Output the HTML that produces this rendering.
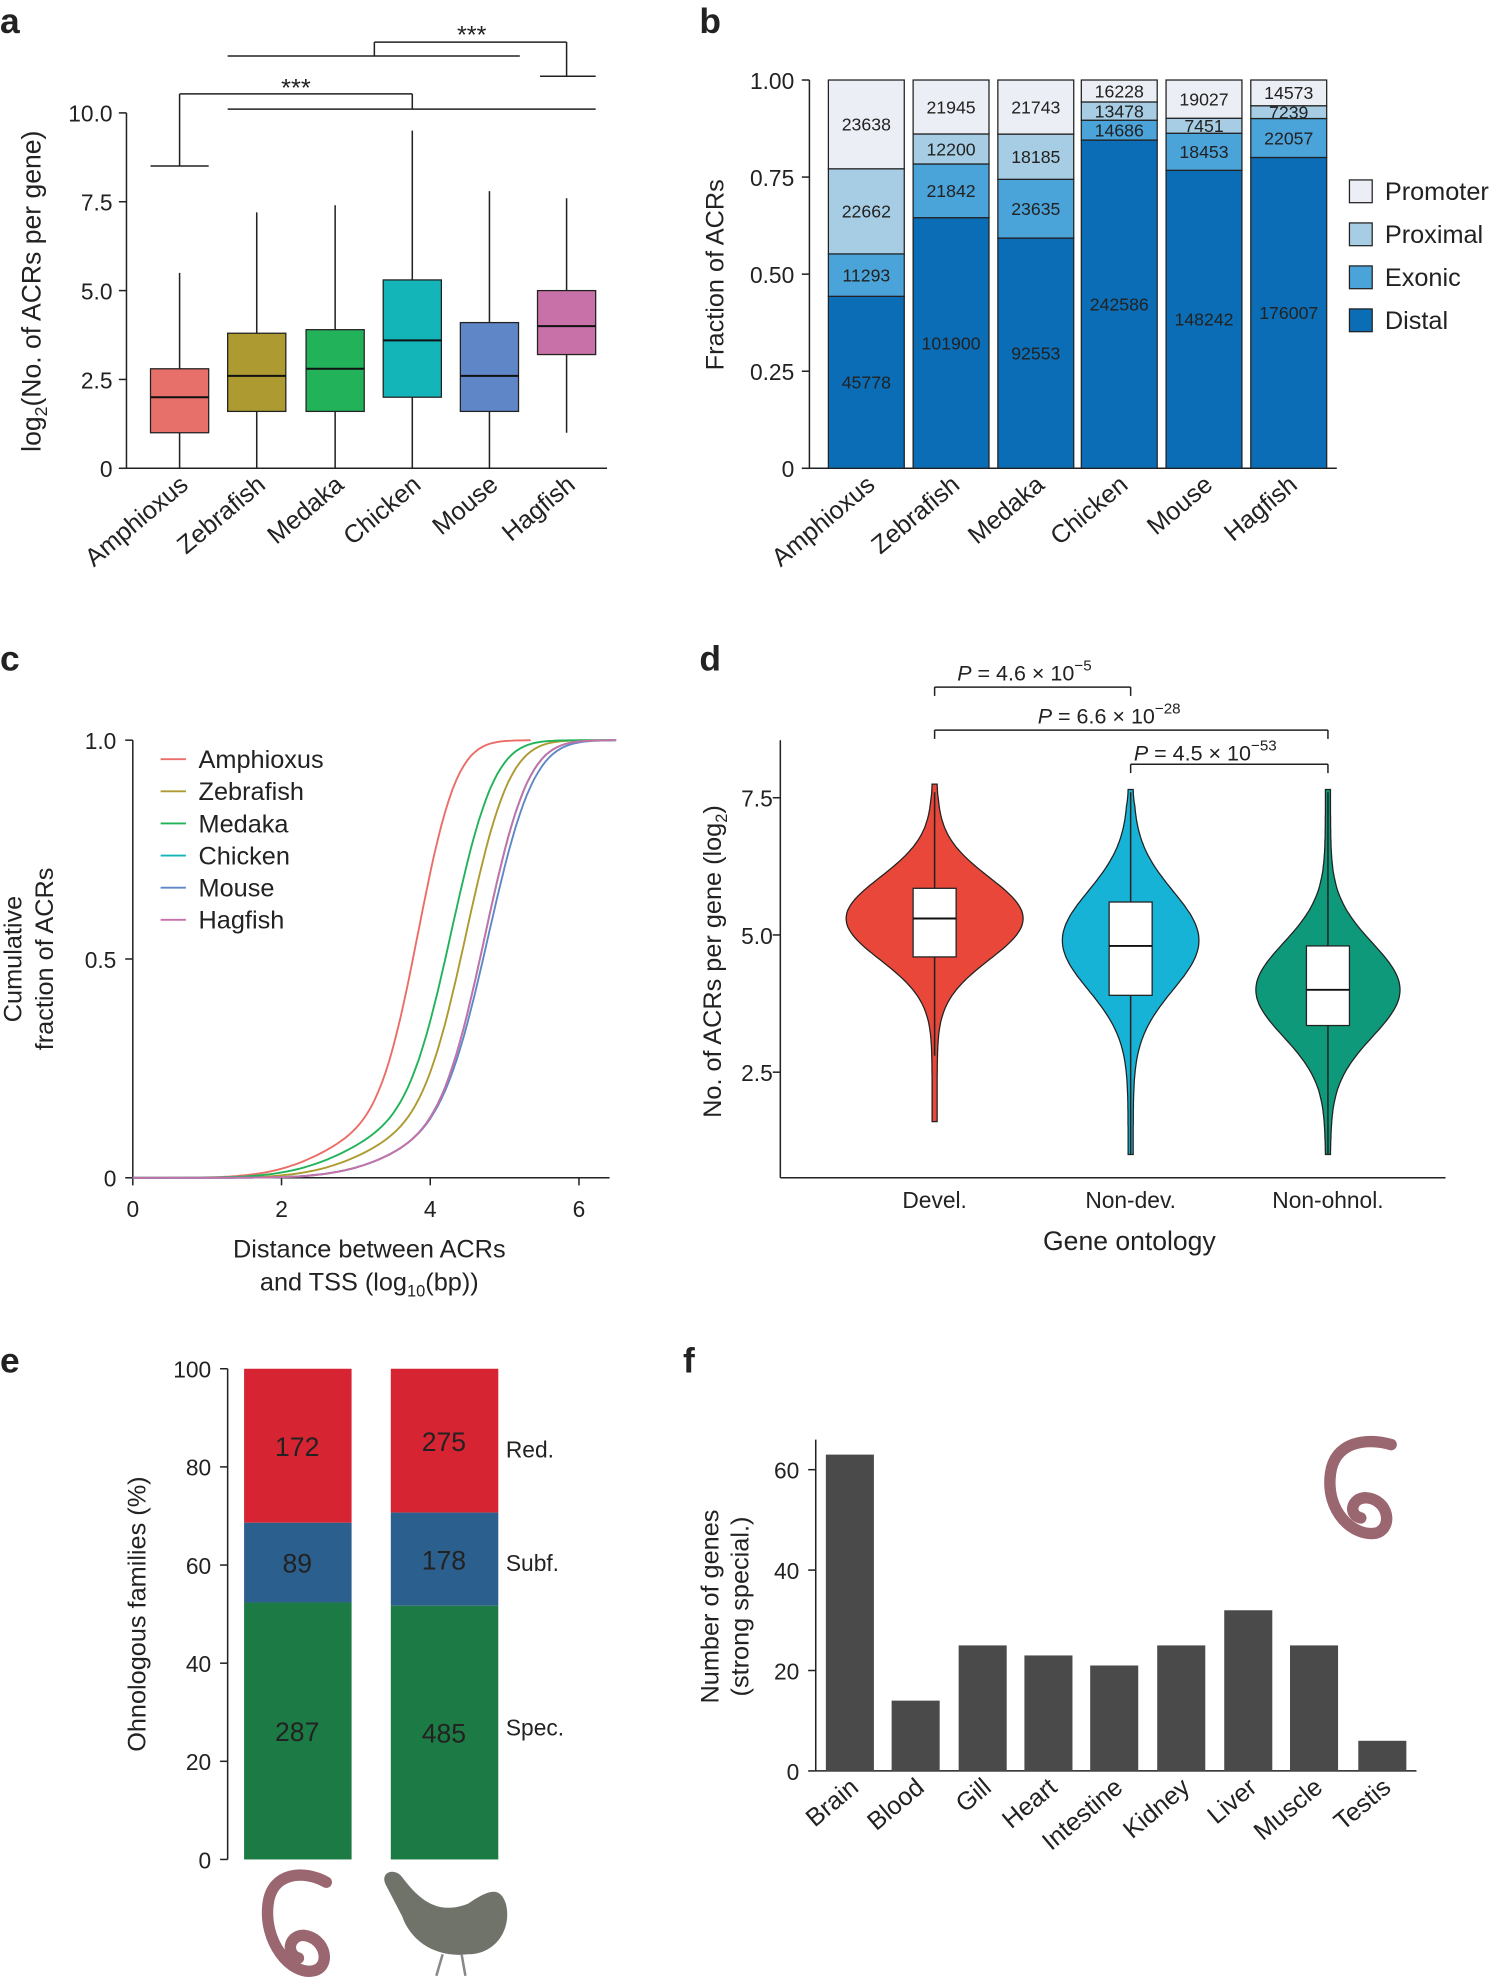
<!DOCTYPE html>
<html><head><meta charset="utf-8"><style>
html,body{margin:0;padding:0;background:#fff}
svg{display:block}
text{font-family:"Liberation Sans",sans-serif;fill:#222}
</style></head><body>
<svg id="s" width="1505" height="1985" viewBox="0 0 1190 1569" xmlns="http://www.w3.org/2000/svg"></svg>
<script>
const S=document.getElementById('s');let h='';
const L=(x1,y1,x2,y2,c='#222',w=1.2)=>h+=`<line x1="${x1}" y1="${y1}" x2="${x2}" y2="${y2}" stroke="${c}" stroke-width="${w}"/>`;
const T=(x,y,t,sz=18,a='start',ex='')=>h+=`<text x="${x}" y="${y}" font-size="${sz}" text-anchor="${a}" ${ex}>${t}</text>`;
const R=(x,y,w,hh,f,st='#222')=>h+=`<rect x="${x}" y="${y}" width="${w}" height="${hh}" fill="${f}" stroke="${st}" stroke-width="1"/>`;
[['a',0,26],['b',553,26],['c',0,530],['d',553,530],['e',0,1085],['f',540,1085]].forEach(p=>T(p[1],p[2],p[0],28,'start','font-weight="bold"'));
// ===== a
{const y=v=>370-v*28.1;L(100,y(10),100,370);L(100,370,480,370);
[[0,'0'],[2.5,'2.5'],[5,'5.0'],[7.5,'7.5'],[10,'10.0']].forEach(t=>{L(94,y(t[0]),100,y(t[0]));T(89,y(t[0])+7,t[1],18,'end')});
T(32,230,'log<tspan font-size="14" dy="5">2</tspan><tspan dy="-5">(No. of ACRs per gene)</tspan>',21,'middle','transform="rotate(-90 32 230)"');
const d=[['Amphioxus',142,'#e8706a',0,1,2,2.8,5.5],['Zebrafish',203,'#ad9a30',0,1.6,2.6,3.8,7.2],['Medaka',265,'#22b35a',0,1.6,2.8,3.9,7.4],['Chicken',326,'#13b5b8',0,2,3.6,5.3,9.5],['Mouse',387,'#5f87c7',0,1.6,2.6,4.1,7.8],['Hagfish',448,'#c870a8',1,3.2,4,5,7.6]];
d.forEach(b=>{const x=b[1];L(x,y(b[3]),x,y(b[7]));R(x-23,y(b[6]),46,y(b[4])-y(b[6]),b[2]);L(x-23,y(b[5]),x+23,y(b[5]),'#111',1.6);
T(x+8,385,b[0],20,'end',`transform="rotate(-40 ${x+8} 385)"`)});
L(119,131,165,131);L(142,131,142,74);L(142,74,326,74);L(326,74,326,86);L(180,86,471,86);T(234,76,'***',20,'middle');
L(180,44,411,44);L(296,44,296,33);L(296,33,448,33);L(448,33,448,60);L(427,60,471,60);T(373,34,'***',20,'middle');}
// ===== b
{const y=v=>370-v*307;L(640,63,640,370);L(640,370,1057,370);
[[0,'0'],[.25,'0.25'],[.5,'0.50'],[.75,'0.75'],[1,'1.00']].forEach(t=>{L(634,y(t[0]),640,y(t[0]));T(628,y(t[0])+7,t[1],18,'end')});
T(572,217,'Fraction of ACRs',20,'middle','transform="rotate(-90 572 217)"');
const cols=['#0a6db5','#4aa3d9','#a6cde4','#eceef5'];
const d=[['Amphioxus',655,[45778,11293,22662,23638]],['Zebrafish',722,[101900,21842,12200,21945]],['Medaka',789,[92553,23635,18185,21743]],['Chicken',855,[242586,14686,13478,16228]],['Mouse',922,[148242,18453,7451,19027]],['Hagfish',989,[176007,22057,7239,14573]]];
d.forEach(b=>{const tot=b[2].reduce((a,c)=>a+c);let c=0;b[2].forEach((v,i)=>{const y0=y(c/tot),y1=y((c+v)/tot);R(b[1],y1,60,y0-y1,cols[i]);c+=v;
T(b[1]+30,(y0+y1)/2+5,v,14,'middle')});
T(b[1]+38,385,b[0],20,'end',`transform="rotate(-40 ${b[1]+38} 385)"`)});
['Promoter','Proximal','Exonic','Distal'].forEach((n,i)=>{R(1067,142+i*34,18,18,cols[3-i]);T(1095,158+i*34,n,20)});}
// ===== c
{const X=v=>105+v*58.8,Y=v=>931-v*346;L(105,585,105,931);L(105,931,482,931);
[0,2,4,6].forEach(t=>{L(X(t),931,X(t),937);T(X(t),962,t,18,'middle')});
[[0,'0'],[.5,'0.5'],[1,'1.0']].forEach(t=>{L(99,Y(t[0]),105,Y(t[0]));T(92,Y(t[0])+7,t[1],18,'end')});
T(292,994,'Distance between ACRs',20,'middle');T(292,1020,'and TSS (log<tspan font-size="13" dy="5">10</tspan><tspan dy="-5">(bp))</tspan>',20,'middle');
T(17,758,'Cumulative',20,'middle','transform="rotate(-90 17 758)"');T(42,758,'fraction of ACRs',20,'middle','transform="rotate(-90 42 758)"');
const erf=x=>{const t=1/(1+.3275911*Math.abs(x));const y=1-(((((1.061405429*t-1.453152027)*t)+1.421413741)*t-.284496736)*t+.254829592)*t*Math.exp(-x*x);return x>=0?y:-y};
const N=(x,m,s)=>.5*(1+erf((x-m)/(s*Math.SQRT2)));
const cs=[['Amphioxus','#ea6d68',3.85,.4,2.9,.75,5.2],['Zebrafish','#ad9a30',4.5,.45,3.5,.8,6.3],['Medaka','#22b35a',4.3,.45,3.2,.8,6.3],['Chicken','#13b5b8',4.75,.45,3.9,.8,6.35],['Mouse','#5f87c7',4.8,.47,3.9,.8,6.35],['Hagfish','#c870a8',4.75,.45,3.9,.8,6.35]];
cs.forEach((c,i)=>{let p='';for(let x=0;x<=c[6]+.001;x+=.05){let v=.82*N(x,c[2],c[3])+.18*N(x,c[4],c[5]);p+=(p?'L':'M')+X(x).toFixed(1)+','+Y(v).toFixed(1)}
p+='L'+X(c[6]+.15)+','+Y(1);h+=`<path d="${p}" fill="none" stroke="${c[1]}" stroke-width="1.5"/>`;
L(127,600+i*25.4,147,600+i*25.4,c[1],1.5);T(157,607+i*25.4,c[0],20)});}
// ===== d
{const Y=v=>739-(v-5)*43.4;L(617,585,617,931);L(617,931,1143,931);
[[2.5,'2.5'],[5,'5.0'],[7.5,'7.5']].forEach(t=>{L(611,Y(t[0]),617,Y(t[0]));T(611,Y(t[0])+7,t[1],18,'end')});
T(570,760,'No. of ACRs per gene (log<tspan font-size="13" dy="5">2</tspan><tspan dy="-5">)</tspan>',20,'middle','transform="rotate(-90 570 760)"');
const vs=[[739,'#e8473a',1.6,7.75,5.3,.75,68,4.6,5.85,5.3,2.8,7.6,'Devel.'],[894,'#17b3d6',1.0,7.65,4.9,.9,52,3.9,5.6,4.8,1.0,7.6,'Non-dev.'],[1050,'#0e9a7a',1.0,7.65,4.0,.85,55,3.35,4.8,4.0,1.0,7.6,'Non-ohnol.']];
vs.forEach(v=>{const c=v[0];let l=[],r=[];for(let t=v[2];t<=v[3]+.001;t+=.05){let w=v[6]*Math.exp(-Math.pow((t-v[4])/v[5],2)/2);
let edge=Math.min(1,(t-v[2])/.3,(v[3]-t)/.3);w=Math.max(w*Math.max(0,edge)+2,2);l.push([c-w,Y(t)]);r.push([c+w,Y(t)])}
let p='M'+l.map(q=>q[0].toFixed(1)+','+q[1].toFixed(1)).join('L')+'L'+r.reverse().map(q=>q[0].toFixed(1)+','+q[1].toFixed(1)).join('L')+'Z';
h+=`<path d="${p}" fill="${v[1]}" stroke="#222" stroke-width="1"/>`;L(c,Y(v[10]),c,Y(v[11]));R(c-17,Y(v[8]),34,Y(v[7])-Y(v[8]),'#fff');L(c-17,Y(v[9]),c+17,Y(v[9]),'#111',1.5);
T(c,955,v[12],18,'middle')});
T(893,988,'Gene ontology',21,'middle');
L(739,550,739,543);L(739,543,894,543);L(894,543,894,550);T(810,538,'<tspan font-style="italic">P</tspan> = 4.6 × 10<tspan font-size="12" dy="-8">−5</tspan>',17,'middle');
L(739,584,739,577);L(739,577,1050,577);L(1050,577,1050,584);T(877,572,'<tspan font-style="italic">P</tspan> = 6.6 × 10<tspan font-size="12" dy="-8">−28</tspan>',17,'middle');
L(894,611,894,604);L(894,604,1050,604);L(1050,604,1050,611);T(953,601,'<tspan font-style="italic">P</tspan> = 4.5 × 10<tspan font-size="12" dy="-8">−53</tspan>',17,'middle');}
// ===== e
{const Y=v=>1470-v*3.88;L(180,1082,180,1470);
[0,20,40,60,80,100].forEach(t=>{L(174,Y(t),180,Y(t));T(167,Y(t)+7,t,18,'end')});
T(115,1276,'Ohnologous families (%)',20,'middle','transform="rotate(-90 115 1276)"');
[[193,287,89,172],[309,485,178,275]].forEach(b=>{const tot=b[1]+b[2]+b[3],a=b[1]/tot*100,c=(b[1]+b[2])/tot*100;
h+=`<rect x="${b[0]}" y="${Y(100)}" width="85" height="${Y(c)-Y(100)}" fill="#d62433"/><rect x="${b[0]}" y="${Y(c)}" width="85" height="${Y(a)-Y(c)}" fill="#2a5f8e"/><rect x="${b[0]}" y="${Y(a)}" width="85" height="${Y(0)-Y(a)}" fill="#1c7a44"/>`;
T(b[0]+42,(Y(0)+Y(a))/2+8,b[1],21,'middle');T(b[0]+42,(Y(a)+Y(c))/2+8,b[2],21,'middle');T(b[0]+42,(Y(c)+Y(100))/2+8,b[3],21,'middle')});
T(400,1152,'Red.',18);T(400,1242,'Subf.',18);T(400,1372,'Spec.',18);
h+=`<path d="M258,1488 C240,1478 215,1480 212,1505 C208,1535 230,1562 248,1558 C262,1555 258,1532 240,1530 C228,1530 226,1545 236,1548" fill="none" stroke="#9a6670" stroke-width="9" stroke-linecap="round"/>`;
h+=`<path d="M305,1490 C300,1480 312,1476 318,1484 C330,1500 345,1515 370,1505 C385,1495 395,1490 400,1505 C405,1525 392,1545 370,1545 C345,1548 325,1535 318,1515 Z" fill="#6f736a"/><line x1="350" y1="1545" x2="345" y2="1562" stroke="#888" stroke-width="2"/><line x1="365" y1="1545" x2="368" y2="1562" stroke="#888" stroke-width="2"/>`;}
// ===== f
{const Y=v=>1400-v*3.97;L(645,1138,645,1400);L(645,1400,1120,1400);
[0,20,40,60].forEach(t=>{L(639,Y(t),645,Y(t));T(632,Y(t)+7,t,18,'end')});
T(568,1270,'Number of genes',20,'middle','transform="rotate(-90 568 1270)"');T(592,1270,'(strong special.)',20,'middle','transform="rotate(-90 592 1270)"');
[['Brain',672,63],['Blood',724,14],['Gill',777,25],['Heart',829,23],['Intestine',881,21],['Kidney',934,25],['Liver',987,32],['Muscle',1039,25],['Testis',1093,6]].forEach(b=>{
h+=`<rect x="${b[1]-19}" y="${Y(b[2])}" width="38" height="${Y(0)-Y(b[2])}" fill="#4a4a4b"/>`;T(b[1]+8,1415,b[0],20,'end',`transform="rotate(-40 ${b[1]+8} 1415)"`)});
h+=`<path d="M1100,1142 C1080,1136 1055,1140 1052,1165 C1048,1195 1070,1215 1088,1212 C1102,1208 1098,1185 1080,1184 C1068,1184 1066,1198 1076,1200" fill="none" stroke="#9a6670" stroke-width="9" stroke-linecap="round"/>`;}
S.innerHTML=h;
</script>
</body></html>
